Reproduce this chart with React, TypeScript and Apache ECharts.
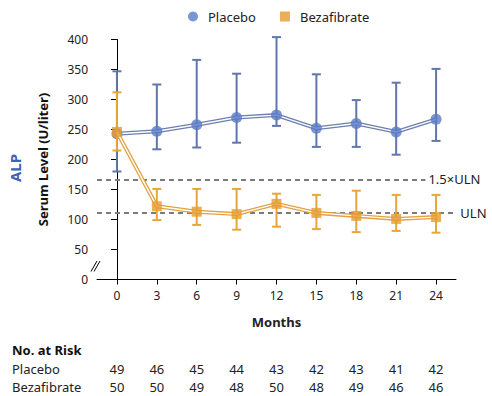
import React, { useEffect, useRef } from "react";
import * as echarts from "echarts";

const months = [0, 3, 6, 9, 12, 15, 18, 21, 24];
const placeboMean = [243, 247, 258, 270, 274, 252, 260, 246, 267];
const placeboLow = [180, 217, 220, 228, 256, 221, 221, 208, 231];
const placeboHigh = [347, 325, 366, 343, 404, 342, 299, 328, 351];
const bezaMean = [246, 122, 113, 109, 126, 111, 106, 101, 104];
const bezaLow = [215, 99, 91, 83, 88, 84, 79, 81, 78];
const bezaHigh = [312, 151, 151, 151, 143, 141, 148, 141, 141];
const atRiskPlacebo = [49, 46, 45, 44, 43, 42, 43, 41, 42];
const atRiskBeza = [50, 50, 49, 48, 50, 48, 49, 46, 46];
const yTicks = [0, 50, 100, 150, 200, 250, 300, 350, 400];
const ULN = 111;
const ULN15 = 167;

const FONT = "'Noto Sans', 'DejaVu Sans', sans-serif";
const BLUE = "#5a7bc6";
const BLUE_LINE = "#6d7fae";
const BLUE_ERR = "#6076ad";
const ORANGE = "#e59b2f";
const ORANGE_LINE = "#e3a140";
const ORANGE_ERR = "#e8a53a";

function errorSeries(name: string, low: number[], high: number[], color: string, z: number) {
  return {
    name,
    type: "custom",
    z,
    data: months.map((m, i) => [m, low[i], high[i]]),
    renderItem: (params: any, api: any) => {
      const x = api.value(0);
      const lo = api.coord([x, api.value(1)]);
      const hi = api.coord([x, api.value(2)]);
      const hw = 4.5;
      const style = { stroke: color, lineWidth: 2, fill: "none" };
      return {
        type: "group",
        children: [
          { type: "line", shape: { x1: lo[0], y1: lo[1], x2: hi[0], y2: hi[1] }, style },
          { type: "line", shape: { x1: hi[0] - hw, y1: hi[1], x2: hi[0] + hw, y2: hi[1] }, style },
          { type: "line", shape: { x1: lo[0] - hw, y1: lo[1], x2: lo[0] + hw, y2: lo[1] }, style },
        ],
      };
    },
  };
}

export default function App() {
  const ref = useRef<HTMLDivElement>(null);
  useEffect(() => {
    if (!ref.current) return;
    const chart = echarts.init(ref.current, null, { renderer: "svg" });
    const pData = months.map((m, i) => [m, placeboMean[i]]);
    const bData = months.map((m, i) => [m, bezaMean[i]]);
    chart.setOption({
      animation: false,
      textStyle: { fontFamily: FONT },
      legend: {
        top: 5,
        left: 183,
        itemWidth: 10,
        itemHeight: 10,
        itemGap: 24,
        textStyle: { fontFamily: FONT, fontSize: 13, color: "#222", padding: [0, 0, 0, 5] },
        data: [
          { name: "Placebo", icon: "circle" },
          { name: "Bezafibrate", icon: "rect" },
        ],
      },
      grid: { left: 97, right: 36, top: 39.5, bottom: 116.5 },
      xAxis: [
        {
          type: "value",
          min: -1.5,
          max: 25.5,
          name: "Months",
          nameLocation: "middle",
          nameGap: 36,
          nameTextStyle: { fontFamily: FONT, fontSize: 13, fontWeight: "bold", color: "#222" },
          axisLine: { lineStyle: { color: "#000", width: 1 } },
          axisTick: { length: 5, lineStyle: { color: "#000" }, customValues: months },
          axisLabel: { customValues: months, fontFamily: FONT, fontSize: 12, color: "#222", margin: 10 },
          splitLine: { show: false },
        },
        {
          type: "category",
          position: "bottom",
          offset: 83,
          data: atRiskPlacebo.map(String),
          axisLine: { show: false },
          axisTick: { show: false },
          axisLabel: { interval: 0, margin: 0, fontFamily: FONT, fontSize: 13, color: "#222" },
        },
        {
          type: "category",
          position: "bottom",
          offset: 101,
          data: atRiskBeza.map(String),
          axisLine: { show: false },
          axisTick: { show: false },
          axisLabel: { interval: 0, margin: 0, fontFamily: FONT, fontSize: 13, color: "#222" },
        },
      ],
      yAxis: {
        type: "value",
        min: 0,
        max: 400,
        interval: 50,
        name: "Serum Level (U/liter)",
        nameLocation: "middle",
        nameGap: 48,
        nameTextStyle: { fontFamily: FONT, fontSize: 13, fontWeight: "bold", color: "#111" },
        axisLine: { show: true, lineStyle: { color: "#000", width: 1 } },
        axisTick: { show: true, length: 6, lineStyle: { color: "#000" }, customValues: yTicks },
        axisLabel: { customValues: yTicks, fontFamily: FONT, fontSize: 12, color: "#222", margin: 9 },
        splitLine: { show: false },
      },
      series: [
        errorSeries("Placebo err", placeboLow, placeboHigh, BLUE_ERR, 2),
        {
          name: "Placebo line",
          type: "line",
          z: 3,
          data: pData,
          showSymbol: false,
          lineStyle: { color: BLUE_LINE, width: 4 },
          itemStyle: { color: BLUE_LINE },
          markLine: {
            silent: true,
            symbol: ["none", "none"],
            lineStyle: { color: "#7b7b7b", type: [5, 4], width: 1.8 },
            label: {
              position: "end",
              formatter: "{b}",
              fontFamily: FONT,
              fontSize: 13,
              color: "#222",
            },
            data: [
              [
                { name: "1.5×ULN", coord: [-1.5, ULN15], label: { distance: 3 } },
                { coord: [23.2, ULN15] },
              ],
              [
                { name: "ULN", coord: [-1.5, ULN], label: { distance: 7 } },
                { coord: [25.3, ULN] },
              ],
            ],
          },
        },
        {
          name: "Placebo inner",
          type: "line",
          z: 4,
          data: pData,
          showSymbol: false,
          lineStyle: { color: "#ffffff", width: 1.4 },
        },
        {
          name: "Placebo",
          type: "scatter",
          z: 5,
          data: pData,
          symbol: "circle",
          symbolSize: 11,
          itemStyle: { color: BLUE },
        },
        errorSeries("Bezafibrate err", bezaLow, bezaHigh, ORANGE_ERR, 6),
        {
          name: "Bezafibrate line",
          type: "line",
          z: 7,
          data: bData,
          showSymbol: false,
          lineStyle: { color: ORANGE_LINE, width: 4 },
          itemStyle: { color: ORANGE_LINE },
        },
        {
          name: "Bezafibrate inner",
          type: "line",
          z: 8,
          data: bData,
          showSymbol: false,
          lineStyle: { color: "#ffffff", width: 1.4 },
        },
        {
          name: "Bezafibrate",
          type: "scatter",
          z: 9,
          data: bData,
          symbol: "rect",
          symbolSize: 10,
          itemStyle: { color: ORANGE },
        },
      ],
      graphic: [
        {
          type: "text",
          x: 15,
          y: 168,
          rotation: Math.PI / 2,
          style: {
            text: "ALP",
            fill: "#3d62b6",
            font: `bold 15px ${FONT}`,
            align: "center",
            verticalAlign: "middle",
          },
        },
        {
          type: "line",
          shape: { x1: 91, y1: 271.5, x2: 97, y2: 261 },
          style: { stroke: "#000", lineWidth: 1 },
        },
        {
          type: "line",
          shape: { x1: 94, y1: 271.5, x2: 100, y2: 261 },
          style: { stroke: "#000", lineWidth: 1 },
        },
        {
          type: "text",
          x: 12,
          y: 350,
          style: { text: "No. at Risk", fill: "#111", font: `bold 13px ${FONT}`, verticalAlign: "middle" },
        },
        {
          type: "text",
          x: 12,
          y: 369,
          style: { text: "Placebo", fill: "#222", font: `13px ${FONT}`, verticalAlign: "middle" },
        },
        {
          type: "text",
          x: 12,
          y: 387,
          style: { text: "Bezafibrate", fill: "#222", font: `13px ${FONT}`, verticalAlign: "middle" },
        },
      ],
    });
    return () => chart.dispose();
  }, []);
  return <div ref={ref} style={{ width: 492, height: 396, position: "absolute", left: 0, top: 0 }} />;
}
